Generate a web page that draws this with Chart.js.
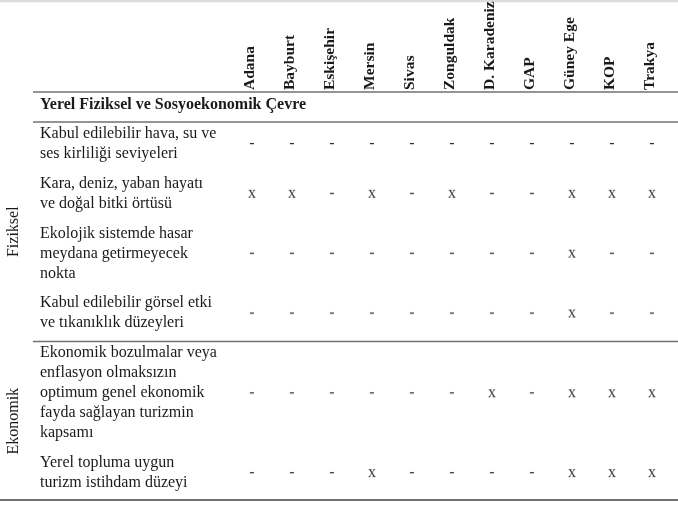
<!DOCTYPE html>
<html>
<head>
<meta charset="utf-8">
<script src="https://cdn.jsdelivr.net/npm/chart.js@4/dist/chart.umd.min.js"></script>
<style>
body { margin: 0; background: #fff; }
#wrap { width: 678px; height: 506px; position: relative; }
</style>
</head>
<body>
<div id="wrap"><canvas id="chart1"></canvas></div>
<script>
const regions = ["Adana", "Bayburt", "Eskişehir", "Mersin", "Sivas", "Zonguldak", "D. Karadeniz", "GAP", "Güney Ege", "KOP", "Trakya"];
const sectionTitle = "Yerel Fiziksel ve Sosyoekonomik Çevre";
const groups = ["Fiziksel", "Ekonomik"];
const criteria = [
    ["Kabul edilebilir hava, su ve", "ses kirliliği seviyeleri"],
    ["Kara, deniz, yaban hayatı", "ve doğal bitki örtüsü"],
    ["Ekolojik sistemde hasar", "meydana getirmeyecek", "nokta"],
    ["Kabul edilebilir görsel etki", "ve tıkanıklık düzeyleri"],
    ["Ekonomik bozulmalar veya", "enflasyon olmaksızın", "optimum genel ekonomik", "fayda sağlayan turizmin", "kapsamı"],
    ["Yerel topluma uygun", "turizm istihdam düzeyi"]
];
const criteriaGroup = [0, 0, 0, 0, 1, 1];
const marks = [
    ["-", "-", "-", "-", "-", "-", "-", "-", "-", "-", "-"],
    ["x", "x", "-", "x", "-", "x", "-", "-", "x", "x", "x"],
    ["-", "-", "-", "-", "-", "-", "-", "-", "x", "-", "-"],
    ["-", "-", "-", "-", "-", "-", "-", "-", "x", "-", "-"],
    ["-", "-", "-", "-", "-", "-", "x", "-", "x", "x", "x"],
    ["-", "-", "-", "x", "-", "-", "-", "-", "x", "x", "x"]
];

const FONT = '"Liberation Serif", "DejaVu Serif", serif';
const LINE_H = 20;

// row tops / middles in y-scale units, built from how many lines each label has
var rowTop = [], rowMid = [], acc = 0;
criteria.forEach(function (lines) {
    rowTop.push(acc);
    rowMid.push(acc + lines.length * LINE_H / 2 + 2);
    acc += lines.length * LINE_H + 10;
});
const totalH = acc;

function glyph(ch) {
    var c = document.createElement('canvas');
    c.width = 14; c.height = 18;
    var g = c.getContext('2d');
    g.font = '16px ' + FONT;
    g.fillStyle = '#333';
    g.textAlign = 'center';
    g.textBaseline = 'alphabetic';
    g.fillText(ch, 7, 12.5);
    return c;
}

function points(sym) {
    var out = [];
    marks.forEach(function (row, r) {
        row.forEach(function (m, c) {
            if (m === sym) out.push({ x: regions[c], y: rowMid[r] });
        });
    });
    return out;
}

const tablePlugin = {
    id: 'tableText',
    afterDraw: function (chart) {
        var ctx = chart.ctx;
        var xs = chart.scales.x, ys = chart.scales.y;
        var W = chart.width;
        ctx.save();

        // rules
        ctx.strokeStyle = '#dcdcdc';
        ctx.lineWidth = 2.5;
        ctx.beginPath(); ctx.moveTo(0, 1); ctx.lineTo(W, 1); ctx.stroke();
        ctx.strokeStyle = '#707070';
        ctx.lineWidth = 1.5;
        [92, ys.getPixelForValue(0), ys.getPixelForValue(rowTop[4])].forEach(function (y) {
            ctx.beginPath(); ctx.moveTo(33, y); ctx.lineTo(W, y); ctx.stroke();
        });
        ctx.lineWidth = 2;
        var yb = ys.getPixelForValue(totalH) - 1;
        ctx.beginPath(); ctx.moveTo(0, yb); ctx.lineTo(W, yb); ctx.stroke();

        ctx.fillStyle = '#1a1a1a';

        // column headers
        ctx.font = 'bold 15.5px ' + FONT;
        ctx.textAlign = 'left';
        ctx.textBaseline = 'alphabetic';
        regions.forEach(function (name, i) {
            var px = xs.getPixelForValue(i);
            ctx.save();
            ctx.translate(px + 2, 90);
            ctx.rotate(-Math.PI / 2);
            ctx.fillText(name, 0, 0);
            ctx.restore();
        });

        // section title
        ctx.font = 'bold 16px ' + FONT;
        ctx.fillText(sectionTitle, 40, 109);

        // row labels
        ctx.font = '16px ' + FONT;
        criteria.forEach(function (lines, r) {
            var mid = ys.getPixelForValue(rowMid[r]);
            lines.forEach(function (t, k) {
                var y = mid + (k - (lines.length - 1) / 2) * LINE_H + 4;
                ctx.fillText(t, 40, y);
            });
        });

        // group labels
        ctx.textAlign = 'center';
        ctx.textBaseline = 'middle';
        groups.forEach(function (g, gi) {
            var rows = [];
            criteriaGroup.forEach(function (v, r) { if (v === gi) rows.push(r); });
            var first = rows[0], last = rows[rows.length - 1];
            var y0 = ys.getPixelForValue(rowTop[first]);
            var y1 = ys.getPixelForValue(rowTop[last] + criteria[last].length * LINE_H + 10);
            ctx.save();
            ctx.translate(14, (y0 + y1) / 2);
            ctx.rotate(-Math.PI / 2);
            ctx.fillText(g, 0, 0);
            ctx.restore();
        });

        ctx.restore();
    }
};

var ctx1 = document.getElementById("chart1").getContext("2d");
var chart1 = new Chart(ctx1, {
    type: "scatter",
    data: {
        datasets: [
            {
                label: "x",
                data: points("x"),
                pointStyle: glyph("x"),
            },
            {
                label: "-",
                data: points("-"),
                pointStyle: glyph("-"),
            },
        ],
    },
    options: {
        responsive: true,
        maintainAspectRatio: false,
        animation: false,
        events: [],
        layout: { padding: { top: 122, left: 232, right: 6, bottom: 4 } },
        plugins: { legend: { display: false }, tooltip: { enabled: false } },
        scales: {
            x: { type: "category", labels: regions, offset: true, display: false },
            y: { type: "linear", reverse: true, min: 0, max: totalH, display: false },
        },
    },
    plugins: [tablePlugin],
});
</script>
</body>
</html>
